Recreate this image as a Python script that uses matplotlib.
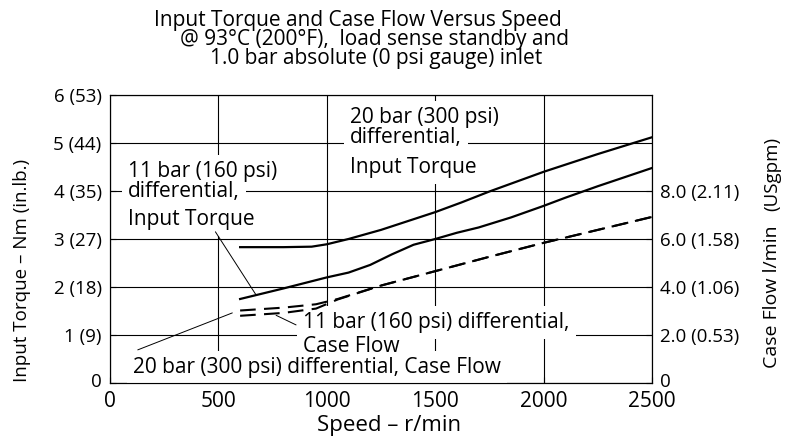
import numpy as np
import matplotlib.pyplot as plt
import matplotlib.transforms as mtransforms

plt.rcParams['font.family'] = ['Open Sans', 'DejaVu Sans']

# input torque, Nm
speed_torque_20 = [600, 800, 930, 1000, 1100, 1250, 1500, 1620, 1750, 2000, 2250, 2500]
torque_20 = [2.83, 2.83, 2.84, 2.89, 3.00, 3.19, 3.56, 3.76, 3.99, 4.40, 4.77, 5.12]

speed_torque_11 = [600, 800, 1000, 1100, 1200, 1300, 1400, 1500, 1600, 1700, 1850, 2000,
                   2100, 2250, 2500]
torque_11 = [1.75, 1.97, 2.20, 2.30, 2.46, 2.68, 2.88, 3.00, 3.13, 3.24, 3.45, 3.69,
             3.86, 4.10, 4.48]

# case flow, L/min
speed_flow = [600, 800, 950, 1050, 1250, 1500, 1750, 2000, 2250, 2500]
flow_20 = [3.02, 3.14, 3.28, 3.50, 4.06, 4.66, 5.26, 5.84, 6.38, 6.92]
flow_11 = [2.80, 2.92, 3.10, 3.48, 4.06, 4.66, 5.26, 5.84, 6.38, 6.92]

torque_ticks = [0, 1, 2, 3, 4, 5, 6]
torque_labels = ['0', '1 (9)', '2 (18)', '3 (27)', '4 (35)', '5 (44)', '6 (53)']
flow_ticks = [0, 2, 4, 6, 8]
flow_labels = ['0', '2.0 (0.53)', '4.0 (1.06)', '6.0 (1.58)', '8.0 (2.11)']

fig = plt.figure(figsize=(7.95, 4.37), dpi=100)
ax = fig.add_axes([0.1384, 0.1236, 0.6818, 0.659])

ax.set_xlim(0, 2500)
ax.set_ylim(0, 6)
ax.set_xticks(range(0, 2501, 500))
ax.set_yticks(torque_ticks)
ax.set_yticklabels(torque_labels)
ax.tick_params(axis='x', direction='in', length=4, width=0.8, labelsize=15, pad=6)
ax.tick_params(axis='y', direction='in', length=4, width=0.8, labelsize=13.5, pad=6)
ax.grid(True, color='black', lw=0.8)
for s in ax.spines.values():
    s.set_linewidth(0.8)

ax.plot(speed_torque_20, torque_20, color='black', lw=1.6, zorder=4)
ax.plot(speed_torque_11, torque_11, color='black', lw=1.6, zorder=4)


def knockout(ax, x, y, text):
    # white box first (under every label line), then the text itself on top
    ax.text(x, y, text, fontsize=15, ha='left', va='baseline', zorder=2.6, color='white',
            bbox=dict(boxstyle='square,pad=0.3', fc='white', ec='none'))
    ax.text(x, y, text, fontsize=15, ha='left', va='baseline', zorder=3)


knockout(ax, 83, 4.29, '11 bar (160 psi)')
knockout(ax, 83, 3.875, 'differential,')
knockout(ax, 83, 3.29, 'Input Torque')

knockout(ax, 1107, 5.42, '20 bar (300 psi)')
knockout(ax, 1107, 5.0, 'differential,')
knockout(ax, 1107, 4.375, 'Input Torque')

knockout(ax, 890, 1.146, '11 bar (160 psi) differential,')
knockout(ax, 890, 0.646, 'Case Flow')
knockout(ax, 106, 0.208, '20 bar (300 psi) differential, Case Flow')

ax.annotate('', xy=(674, np.interp(674, speed_torque_11, torque_11)), xytext=(486, 3.15),
            arrowprops=dict(arrowstyle='-', lw=0.7, shrinkA=0, shrinkB=0), zorder=4)

ax2 = ax.twinx()
ax2.set_ylim(0, 12)
ax2.set_yticks(flow_ticks)
ax2.set_yticklabels(flow_labels)
ax2.tick_params(axis='y', direction='in', length=4, width=0.8, labelsize=13.5, pad=6)
for s in ax2.spines.values():
    s.set_linewidth(0.8)

ax2.plot(speed_flow, flow_20, color='black', lw=1.5, ls=(0, (7.5, 4)))
ax2.plot(speed_flow, flow_11, color='black', lw=1.5, ls=(0, (7.5, 4)))

ax2.annotate('', xy=(766, 2.82), xytext=(858, 2.42),
             arrowprops=dict(arrowstyle='-', lw=0.7, shrinkA=0, shrinkB=0))
ax2.annotate('', xy=(564, 2.92), xytext=(128, 1.38),
             arrowprops=dict(arrowstyle='-', lw=0.7, shrinkA=0, shrinkB=0))

# lift the two zero labels a little off the corner
nudge = mtransforms.ScaledTranslation(0, 3 / 100, fig.dpi_scale_trans)
for lab in (ax.get_yticklabels()[0], ax2.get_yticklabels()[0]):
    lab.set_transform(lab.get_transform() + nudge)

fig.text(358 / 795, 1 - 26 / 437, 'Input Torque and Case Flow Versus Speed',
         ha='center', va='baseline', fontsize=15)
fig.text(375 / 795, 1 - 45 / 437, '@ 93°C (200°F),  load sense standby and',
         ha='center', va='baseline', fontsize=15)
fig.text(376 / 795, 1 - 64 / 437, '1.0 bar absolute (0 psi gauge) inlet',
         ha='center', va='baseline', fontsize=15)

fig.text(389 / 795, 1 - 425 / 437, 'Speed – r/min', ha='center', va='center', fontsize=16)
fig.text(22 / 795, 1 - 270 / 437, 'Input Torque – Nm (in.lb.)', rotation=90,
         ha='center', va='center', fontsize=13.5)
fig.text(772 / 795, 1 - 297 / 437, 'Case Flow l/min', rotation=90,
         ha='center', va='center', fontsize=14)
fig.text(772 / 795, 1 - 174 / 437, '(USgpm)', rotation=90,
         ha='center', va='center', fontsize=13.5)

fig.savefig('out.png', dpi=100)
